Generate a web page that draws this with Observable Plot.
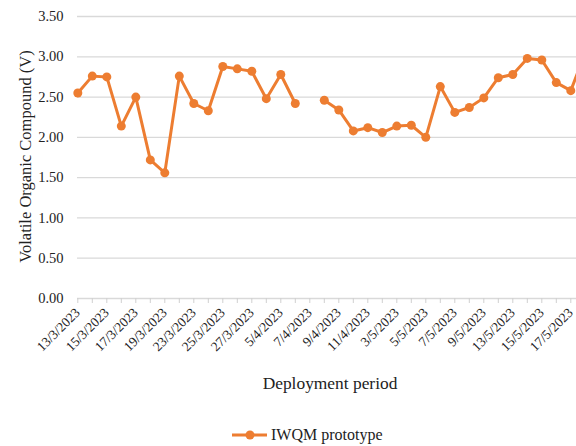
<!DOCTYPE html>
<html>
<head>
<meta charset="utf-8">
<script src="https://cdn.jsdelivr.net/npm/d3@7"></script>
<script src="https://cdn.jsdelivr.net/npm/@observablehq/plot@0.6"></script>
<style>
  html, body { margin: 0; padding: 0; background: white; overflow: hidden; }
  #wrap { width: 576px; height: 446px; overflow: hidden; position: relative; }
  #legend { position: absolute; left: 232px; top: 425px; height: 20px; display: flex; align-items: center;
            font-family: "Liberation Serif", serif; font-size: 16px; color: #222; }
  #legend svg { margin-right: 3px; }
  #chart svg text { font-family: "Liberation Serif", serif; }
</style>
</head>
<body>
<div id="wrap"><div id="chart"></div>
  <div id="legend"><svg width="36" height="12"><line x1="0" y1="6" x2="35" y2="6" stroke="#ED7D31" stroke-width="3"/><circle cx="18" cy="6" r="4.5" fill="#ED7D31"/></svg><span>IWQM prototype</span></div>
</div>
<script>
const dates = ["13/3/2023","14/3/2023","15/3/2023","16/3/2023","17/3/2023","18/3/2023","19/3/2023","21/3/2023",
  "23/3/2023","24/3/2023","25/3/2023","26/3/2023","27/3/2023","28/3/2023","5/4/2023","6/4/2023","7/4/2023",
  "8/4/2023","9/4/2023","10/4/2023","11/4/2023","12/4/2023","3/5/2023","4/5/2023","5/5/2023","6/5/2023",
  "7/5/2023","8/5/2023","9/5/2023","11/5/2023","13/5/2023","14/5/2023","15/5/2023","16/5/2023","17/5/2023","18/5/2023"];
const voc = [2.55,2.76,2.75,2.14,2.50,1.72,1.56,2.76,
  2.42,2.33,2.88,2.85,2.82,2.48,2.78,2.42,null,
  2.46,2.34,2.08,2.12,2.06,2.14,2.15,2.00,2.63,
  2.31,2.37,2.49,2.74,2.78,2.98,2.96,2.68,2.58,3.05];
const tickLabels = ["13/3/2023","15/3/2023","17/3/2023","19/3/2023","23/3/2023","25/3/2023","27/3/2023","5/4/2023",
  "7/4/2023","9/4/2023","11/4/2023","3/5/2023","5/5/2023","7/5/2023","9/5/2023","13/5/2023","15/5/2023","17/5/2023"];
const yTicks = [0, 0.5, 1, 1.5, 2, 2.5, 3, 3.5];

const data = dates.map((d, i) => ({date: d, voc: voc[i]}));
const serif = "Liberation Serif, serif";

const chart = Plot.plot({
  width: 576,
  height: 400,
  marginTop: 16,
  marginBottom: 102,
  marginLeft: 77,
  marginRight: 0,
  style: {fontFamily: serif, fontSize: "13px", color: "#222", background: "white", overflow: "hidden"},
  x: {type: "point", domain: dates, range: [77.3, 584.8], padding: 0, round: false},
  y: {domain: [0, 3.5]},
  marks: [
    Plot.ruleY(yTicks, {stroke: "#d9d9d9", strokeWidth: 1.3}),
    Plot.axisY({ticks: yTicks, tickFormat: d => d.toFixed(2), tickSize: 0, tickPadding: 14, fontSize: 14.5, fontFamily: serif, label: null}),
    Plot.axisX({ticks: dates, tickFormat: d => tickLabels.includes(d) ? d : "", tickRotate: -45, tickSize: 5,
      stroke: "#d0d0d0", fill: "#222", fontSize: 13.5, fontFamily: serif, label: null}),
    Plot.lineY(data, {x: "date", y: "voc", stroke: "#ED7D31", strokeWidth: 3}),
    Plot.dot(data, {x: "date", y: "voc", r: 4.5, fill: "#ED7D31"}),
    Plot.text(["Volatile Organic Compound (V)"], {text: d => d, frameAnchor: "left", textAnchor: "middle", dx: -52, dy: -1, rotate: -90, fontSize: 16.5, fontFamily: serif, fill: "#222"}),
    Plot.text(["Deployment period"], {text: d => d, frameAnchor: "bottom", dx: 3, dy: 90, fontSize: 17.4, fontFamily: serif, fill: "#222"})
  ]
});
document.getElementById("chart").appendChild(chart);
</script>
</body>
</html>
